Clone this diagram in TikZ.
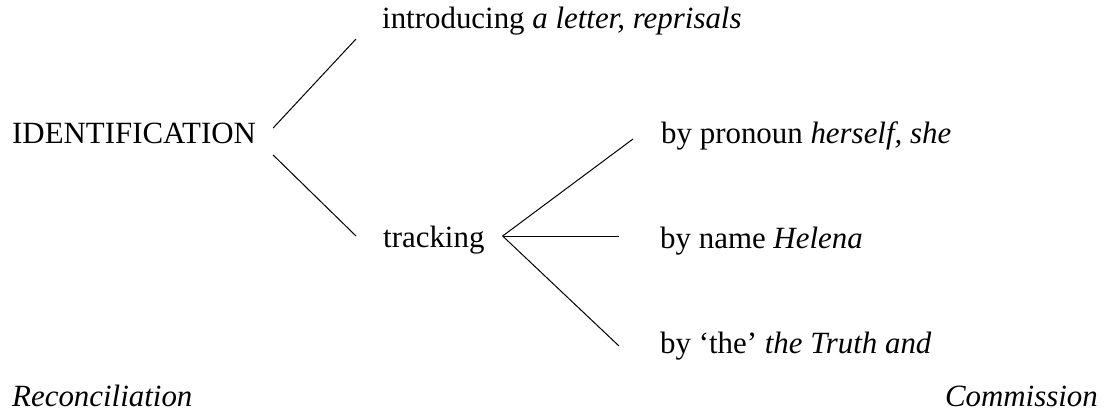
\documentclass[tikz,border=0pt]{standalone}
\usepackage{fontspec}
\setmainfont{Liberation Serif}
\begin{document}
\begin{tikzpicture}[x=1pt,y=1pt,
  label/.style={inner sep=0pt,anchor=base west,font=\fontsize{30.9}{36}\selectfont},
  branch/.style={line width=1pt,black}]
\useasboundingbox (0,0) rectangle (1105,-413);

% system network labels
\node[label] (id)    at (12,-143)  {IDENTIFICATION};
\node[label] (intro) at (382,-28)  {introducing \textit{a letter, reprisals}};
\node[label] (track) at (383,-247) {tracking};
\node[label] (pron)  at (661,-143) {by pronoun \textit{herself, she}};
\node[label] (name)  at (660,-248) {by name \textit{Helena}};
\node[label] (the)   at (660,-353) {by ‘the’ \textit{the Truth and}};
\node[label] (rec)   at (12,-406)  {\textit{Reconciliation}};
\node[label,anchor=base east] (com) at (1098,-406) {\textit{Commission}};

% first choice: introducing vs tracking
\draw[branch] ([shift={(17,15)}]id.base east) -- ([shift={(-26,-11)}]intro.base west);
\draw[branch] ([shift={(17,-12)}]id.base east) -- ([shift={(-27,11)}]track.base west);

% second choice: the three kinds of tracking
\coordinate (fork) at ([shift={(18,11)}]track.base east);
\draw[branch] (fork) -- ([shift={(-28,4)}]pron.base west);
\draw[branch] (fork) -- ([shift={(-41,12)}]name.base west);
\draw[branch] (fork) -- ([shift={(-41,7)}]the.base west);
\end{tikzpicture}
\end{document}
